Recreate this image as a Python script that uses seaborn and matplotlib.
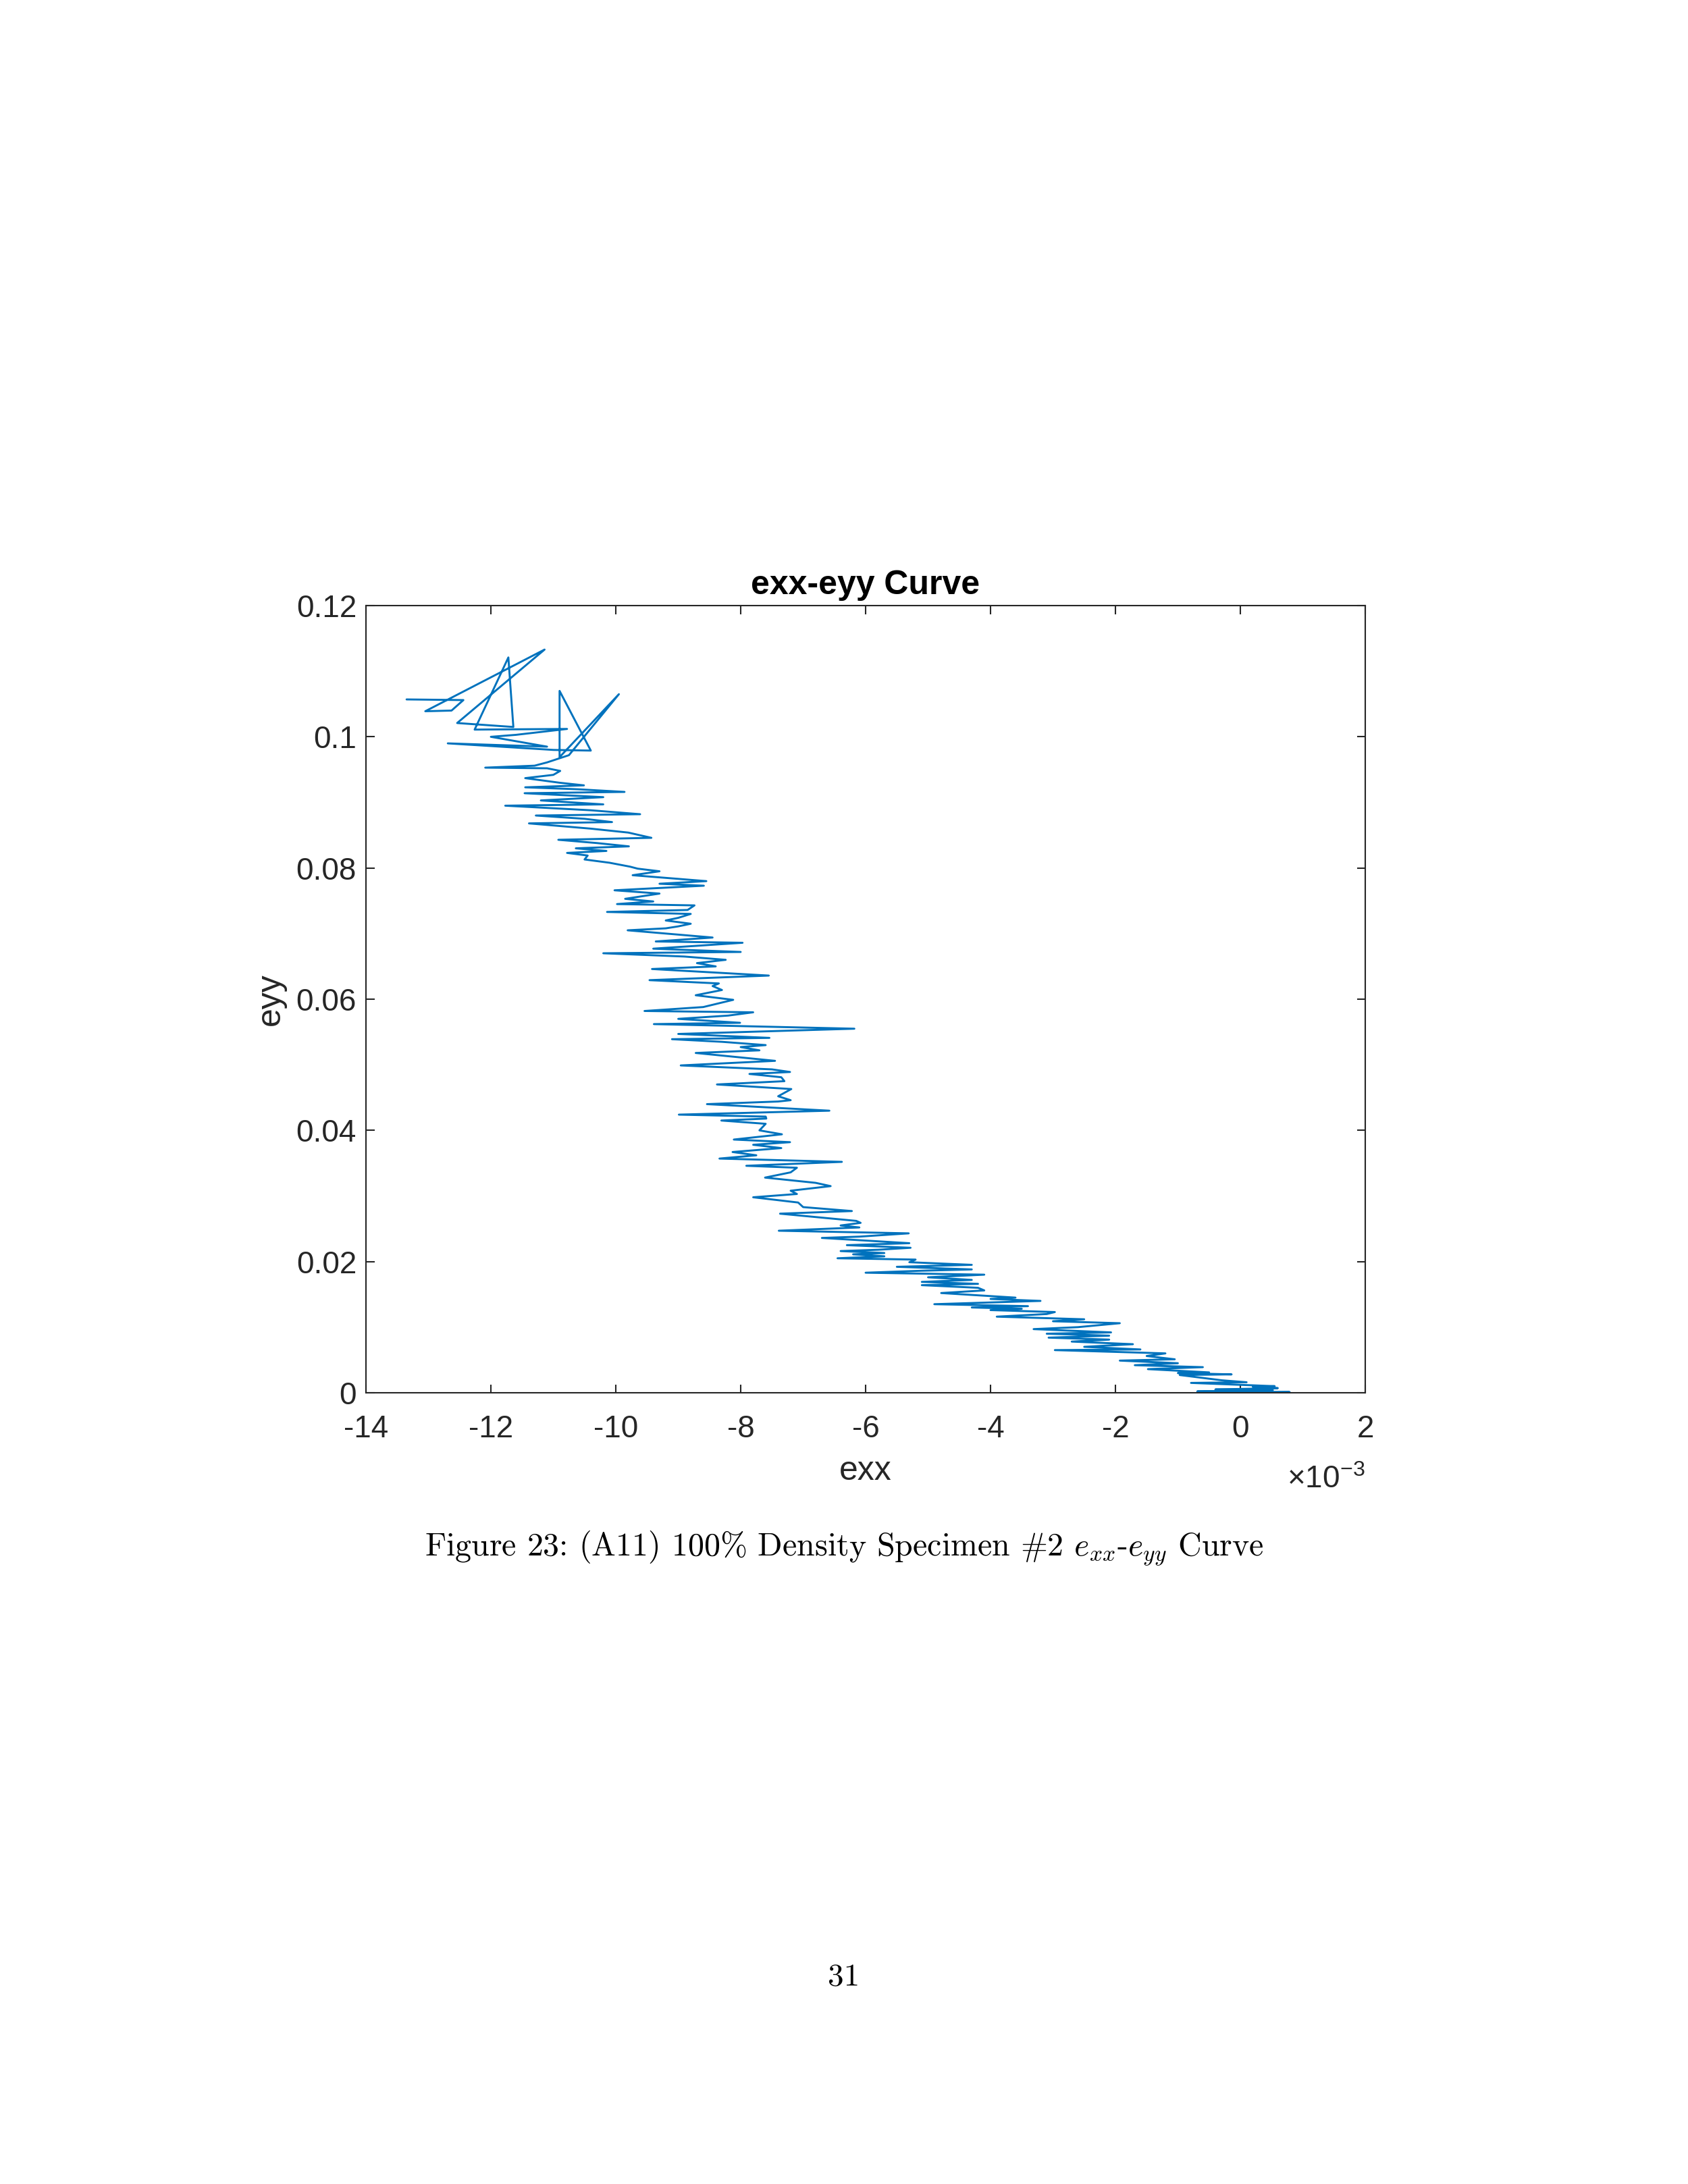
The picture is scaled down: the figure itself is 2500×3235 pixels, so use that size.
import numpy as np
import pandas as pd
import matplotlib
matplotlib.use("Agg")
import matplotlib.pyplot as plt
import seaborn as sns

# ---------------- data (exx in units of 1e-3, eyy) ----------------
exx_milli = [
    0.0, 0.79, -0.69, 0.52, -0.4, 0.6, 0.2, 0.55, -0.79, 0.1, -0.3, -0.97, -0.14, -1.0, -0.5,
    -1.48, -0.6, -1.69, -1.0, -1.93, -1.05, -1.5, -1.2, -2.97, -1.6, -2.5, -1.72, -2.7, -2.1,
    -3.07, -2.1, -3.1, -2.07, -3.31, -2.6, -1.93, -3.0, -2.5, -3.9, -3.1, -2.97, -4.0, -3.5,
    -4.3, -3.4, -4.9, -3.2, -4.0, -3.6, -4.79, -4.1, -4.2, -5.1, -4.2, -5.1, -4.3, -5.0, -4.1,
    -6.0, -5.1, -4.3, -5.5, -4.3, -5.3, -5.2, -6.45, -5.7, -6.2, -5.7, -6.4, -5.8, -5.28, -6.3,
    -5.3, -6.0, -6.7, -6.1, -5.31,
    # middle
    -7.39, -6.1, -6.4, -6.08, -6.15, -7.37, -6.22, -7.0, -7.08, -7.8, -7.1, -7.2, -6.56, -6.8,
    -7.61, -7.2, -7.1, -7.91, -6.38, -8.34, -7.75, -8.13, -7.35, -7.8, -7.21, -8.11, -7.34,
    -7.7, -7.6, -8.31, -7.59, -7.6, -8.99, -6.58, -8.54, -7.4, -7.2, -7.4, -7.19, -8.38, -7.3,
    -7.35, -7.86, -7.21, -7.5, -8.96, -7.45, -8.72, -7.7, -8.0, -7.6, -8.3, -9.1, -7.54, -9.0,
    -6.18, -9.39,
    # upper middle
    -8.01, -9.0, -8.2, -7.8, -9.54, -8.6, -8.12, -8.72, -8.3, -8.45, -8.35, -9.46, -7.55, -9.42,
    -8.4, -8.7, -8.24, -8.9, -10.2, -8.0, -9.4, -7.97, -9.36, -8.45, -9.81, -9.2, -9.0, -8.8,
    -9.2, -9.0, -8.8, -10.14, -8.85, -8.74, -9.98, -9.4, -9.85, -9.3, -10.02, -8.59, -9.3,
    -8.55, -9.73, -9.3, -9.65, -9.77, -10.1, -10.5, -10.45,
    # upper
    -10.78, -10.15, -10.64, -9.79, -10.3, -10.92, -9.43, -9.8, -10.4, -11.39, -10.06, -10.5,
    -11.28, -9.61, -10.4, -11.77, -10.2, -11.2, -10.6, -10.2, -11.46, -9.86, -10.6, -11.45,
    -10.51, -10.9, -11.45, -11.0, -10.89, -11.1, -12.09, -11.3, -11.1, -10.75,
    # final tangle
    -9.95, -10.9, -10.9, -10.4, -11.0, -12.69, -11.1, -12.0, -11.6, -10.78, -12.26, -11.72,
    -11.64, -12.54, -11.14, -13.05, -12.63, -12.44, -13.35,
]
eyy = [
    0.0000, 0.0001, 0.0002, 0.0004, 0.0005, 0.0007, 0.0009, 0.0010, 0.0015, 0.0016, 0.0019,
    0.0027, 0.0028, 0.0030, 0.0031, 0.0036, 0.0039, 0.0042, 0.0045, 0.0049, 0.0051, 0.0056,
    0.0060, 0.0065, 0.0066, 0.0070, 0.0074, 0.0078, 0.0081, 0.0084, 0.0087, 0.0090, 0.0092,
    0.0097, 0.0100, 0.0106, 0.0109, 0.0112, 0.0116, 0.0120, 0.0123, 0.0126, 0.0128, 0.0130,
    0.0132, 0.0135, 0.0140, 0.0143, 0.0145, 0.0152, 0.0156, 0.0160, 0.0164, 0.0166, 0.0169,
    0.0172, 0.0176, 0.0180, 0.0183, 0.0186, 0.0188, 0.0192, 0.0195, 0.0199, 0.0203, 0.0205,
    0.0208, 0.0211, 0.0213, 0.0216, 0.0218, 0.0221, 0.0225, 0.0228, 0.0232, 0.0236, 0.0238,
    0.0243,
    # middle
    0.0247, 0.0252, 0.0255, 0.0259, 0.0262, 0.0273, 0.0277, 0.0283, 0.0290, 0.0298, 0.0303,
    0.0308, 0.0315, 0.0320, 0.0328, 0.0336, 0.0343, 0.0346, 0.0352, 0.0357, 0.0362, 0.0367,
    0.0373, 0.0378, 0.0382, 0.0386, 0.0394, 0.0400, 0.0410, 0.0415, 0.0418, 0.0421, 0.0424,
    0.0430, 0.0440, 0.0444, 0.0446, 0.0452, 0.0463, 0.0470, 0.0475, 0.0481, 0.0486, 0.0489,
    0.0493, 0.0499, 0.0506, 0.0518, 0.0522, 0.0527, 0.0530, 0.0535, 0.0539, 0.0541, 0.0547,
    0.0555, 0.0562,
    # upper middle
    0.0564, 0.0570, 0.0575, 0.0580, 0.0582, 0.0588, 0.0599, 0.0606, 0.0614, 0.0620, 0.0624,
    0.0629, 0.0636, 0.0646, 0.0650, 0.0655, 0.0660, 0.0665, 0.0670, 0.0672, 0.0677, 0.0686,
    0.0688, 0.0694, 0.0705, 0.0708, 0.0711, 0.0715, 0.0720, 0.0724, 0.0730, 0.0733, 0.0736,
    0.0743, 0.0745, 0.0749, 0.0753, 0.0761, 0.0766, 0.0773, 0.0776, 0.0780, 0.0789, 0.0795,
    0.0799, 0.0802, 0.0808, 0.0813, 0.0819,
    # upper
    0.0823, 0.0826, 0.0830, 0.0833, 0.0838, 0.0843, 0.0846, 0.0854, 0.0860, 0.0868, 0.0870,
    0.0875, 0.0880, 0.0882, 0.0888, 0.0895, 0.0897, 0.0903, 0.0906, 0.0908, 0.0914, 0.0916,
    0.0920, 0.0923, 0.0926, 0.0930, 0.0937, 0.0942, 0.0948, 0.0952, 0.0953, 0.0956, 0.0961,
    0.0972,
    # final tangle
    0.1065, 0.0969, 0.1070, 0.0979, 0.0980, 0.0990, 0.0985, 0.1000, 0.1003, 0.1012, 0.1011,
    0.1121, 0.1015, 0.1021, 0.1133, 0.1039, 0.1040, 0.1056, 0.1057,
]

x_ticks_milli = [-14, -12, -10, -8, -6, -4, -2, 0, 2]
x_tick_labels = ["-14", "-12", "-10", "-8", "-6", "-4", "-2", "0", "2"]
y_ticks = [0, 0.02, 0.04, 0.06, 0.08, 0.1, 0.12]
y_tick_labels = ["0", "0.02", "0.04", "0.06", "0.08", "0.1", "0.12"]

title = "exx-eyy Curve"
x_label = "exx"
y_label = "eyy"
caption = r"Figure 23: (A11) 100% Density Specimen #2 $e_{xx}$-$e_{yy}$ Curve"
page_number = "31"

# ---------------- plotting ----------------
sns.set_theme(style="white")
plt.rcParams["font.family"] = ["Liberation Sans", "DejaVu Sans"]
plt.rcParams["mathtext.fontset"] = "custom"
plt.rcParams["mathtext.rm"] = "Liberation Sans"
plt.rcParams["mathtext.it"] = "Liberation Sans:italic"
plt.rcParams["mathtext.bf"] = "Liberation Sans:bold"

df = pd.DataFrame({"exx": np.array(exx_milli) * 1e-3, "eyy": eyy})

fig = plt.figure(figsize=(25, 32.35), dpi=100)
fig.patch.set_facecolor("white")
ax = fig.add_axes([0.2168, 0.3623, 0.592, 0.3604])

sns.lineplot(data=df, x="exx", y="eyy", sort=False, estimator=None,
             color="#0072BD", linewidth=2.1, ax=ax)

ax.set_xlim(-0.014, 0.002)
ax.set_ylim(0, 0.12)
ax.set_xticks(np.array(x_ticks_milli) * 1e-3)
ax.set_xticklabels(x_tick_labels)
ax.set_yticks(y_ticks)
ax.set_yticklabels(y_tick_labels)

dark = "#262626"
for s in ax.spines.values():
    s.set_visible(True)
    s.set_color(dark)
    s.set_linewidth(1.5)
ax.tick_params(axis="both", which="major", direction="in", length=9, width=1.5,
               colors=dark, labelsize=33, top=True, right=True, bottom=True, left=True)
ax.tick_params(axis="x", pad=23)
ax.tick_params(axis="y", pad=10)

ax.set_title(title, fontsize=36, fontweight="bold", color="black", pad=12)
ax.set_xlabel(x_label, fontsize=36, color=dark, labelpad=12)
ax.set_ylabel(y_label, fontsize=36, color=dark, labelpad=11)

ax.text(1.0, -0.092, r"$\times$10$^{\mathrm{-3}}$", transform=ax.transAxes, ha="right", va="top",
        fontsize=33, color=dark)

fig.text(0.5, 0.291, caption, ha="center", va="center", fontsize=34.5,
         family=["cmr10", "DejaVu Serif"], math_fontfamily="cm", color="black")
fig.text(0.5, 0.0945, page_number, ha="center", va="center", fontsize=34,
         family=["cmr10", "DejaVu Serif"], color="black")

fig.savefig("out.png", dpi=100, facecolor="white")
